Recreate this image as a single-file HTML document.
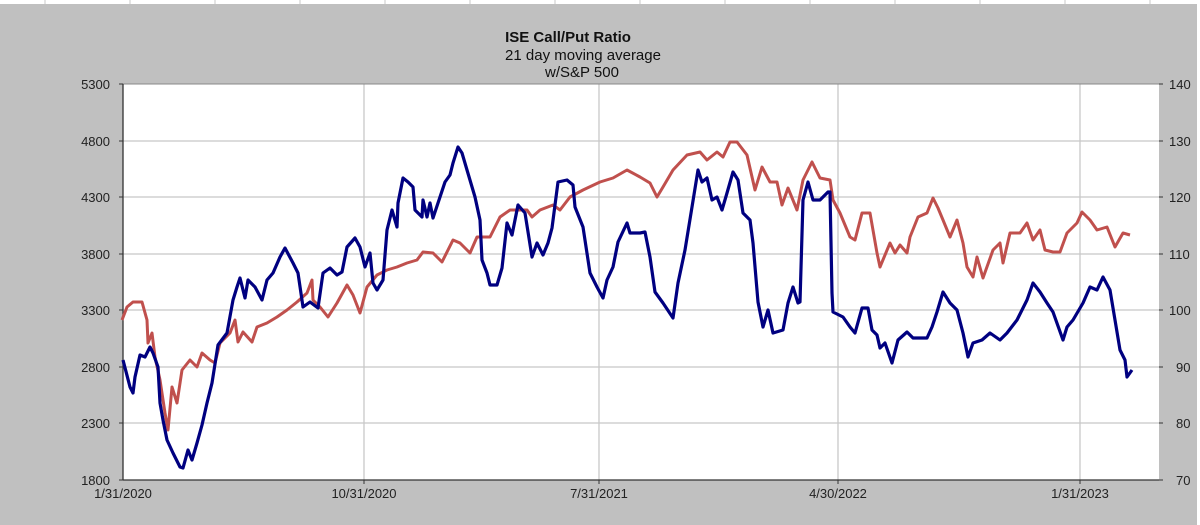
<!DOCTYPE html>
<html><head><meta charset="utf-8"><style>
html,body{margin:0;padding:0;background:#c0c0c0;}
svg{display:block;font-family:"Liberation Sans",Arial,sans-serif;}
</style></head><body>
<svg width="1200" height="525" viewBox="0 0 1200 525" xmlns="http://www.w3.org/2000/svg">
<rect x="0" y="0" width="1200" height="525" fill="#c0c0c0"/>
<rect x="0" y="0" width="1200" height="4" fill="#fff"/>
<g stroke="#c8c8c8" stroke-width="1">
<line x1="45" y1="0" x2="45" y2="4"/><line x1="130" y1="0" x2="130" y2="4"/><line x1="215" y1="0" x2="215" y2="4"/><line x1="300" y1="0" x2="300" y2="4"/><line x1="385" y1="0" x2="385" y2="4"/><line x1="470" y1="0" x2="470" y2="4"/><line x1="555" y1="0" x2="555" y2="4"/><line x1="640" y1="0" x2="640" y2="4"/><line x1="725" y1="0" x2="725" y2="4"/><line x1="810" y1="0" x2="810" y2="4"/><line x1="895" y1="0" x2="895" y2="4"/><line x1="980" y1="0" x2="980" y2="4"/><line x1="1065" y1="0" x2="1065" y2="4"/><line x1="1150" y1="0" x2="1150" y2="4"/>
</g>
<rect x="1197" y="0" width="3" height="525" fill="#fff"/>
<text x="568" y="42" font-size="15" font-weight="bold" text-anchor="middle" fill="#111">ISE  Call/Put Ratio</text>
<text x="583" y="60" font-size="15" text-anchor="middle" fill="#111">21 day moving average</text>
<text x="582" y="77" font-size="15" text-anchor="middle" fill="#111">w/S&amp;P 500</text>
<rect x="123" y="84" width="1036" height="396" fill="#fff"/>
<g stroke="#c8c8c8" stroke-width="1.3">
<line x1="123" y1="141" x2="1159" y2="141"/><line x1="123" y1="197" x2="1159" y2="197"/><line x1="123" y1="254" x2="1159" y2="254"/><line x1="123" y1="310" x2="1159" y2="310"/><line x1="123" y1="367" x2="1159" y2="367"/><line x1="123" y1="423" x2="1159" y2="423"/>
<line x1="364" y1="84" x2="364" y2="480"/><line x1="599" y1="84" x2="599" y2="480"/><line x1="838" y1="84" x2="838" y2="480"/><line x1="1080" y1="84" x2="1080" y2="480"/>
</g>
<line x1="123" y1="84" x2="1159" y2="84" stroke="#888" stroke-width="1"/>
<line x1="123" y1="84" x2="123" y2="480" stroke="#333" stroke-width="1.3"/>
<line x1="123" y1="480" x2="1159" y2="480" stroke="#333" stroke-width="1.3"/>
<g stroke="#333" stroke-width="1">
<line x1="119" y1="84" x2="123" y2="84"/><line x1="119" y1="141" x2="123" y2="141"/><line x1="119" y1="197" x2="123" y2="197"/><line x1="119" y1="254" x2="123" y2="254"/><line x1="119" y1="310" x2="123" y2="310"/><line x1="119" y1="367" x2="123" y2="367"/><line x1="119" y1="423" x2="123" y2="423"/><line x1="119" y1="480" x2="123" y2="480"/>
<line x1="1159" y1="84" x2="1163" y2="84"/><line x1="1159" y1="141" x2="1163" y2="141"/><line x1="1159" y1="197" x2="1163" y2="197"/><line x1="1159" y1="254" x2="1163" y2="254"/><line x1="1159" y1="310" x2="1163" y2="310"/><line x1="1159" y1="367" x2="1163" y2="367"/><line x1="1159" y1="423" x2="1163" y2="423"/><line x1="1159" y1="480" x2="1163" y2="480"/>
<line x1="364" y1="480" x2="364" y2="484"/><line x1="599" y1="480" x2="599" y2="484"/><line x1="838" y1="480" x2="838" y2="484"/><line x1="1080" y1="480" x2="1080" y2="484"/>
</g>
<g font-size="13" fill="#222" text-anchor="end">
<text x="110" y="89">5300</text><text x="110" y="146">4800</text><text x="110" y="202">4300</text><text x="110" y="259">3800</text><text x="110" y="315">3300</text><text x="110" y="372">2800</text><text x="110" y="428">2300</text><text x="110" y="485">1800</text>
</g>
<g font-size="13" fill="#222">
<text x="1169" y="89">140</text><text x="1169" y="146">130</text><text x="1169" y="202">120</text><text x="1169" y="259">110</text><text x="1169" y="315">100</text><text x="1176" y="372">90</text><text x="1176" y="428">80</text><text x="1176" y="485">70</text>
</g>
<g font-size="13" fill="#222" text-anchor="middle">
<text x="123" y="498">1/31/2020</text><text x="364" y="498">10/31/2020</text><text x="599" y="498">7/31/2021</text><text x="838" y="498">4/30/2022</text><text x="1080" y="498">1/31/2023</text>
</g>
<polyline fill="none" stroke="#c0504d" stroke-width="3" stroke-linejoin="round" points="122,320 127,307 133,302 142,302 147,320 148,343 152,333 155,357 160,380 165,413 168,430 172,387 177,403 182,370 190,360 197,367 202,353 210,360 215,363 220,343 230,333 235,320 238,342 243,332 252,342 257,327 267,323 277,317 287,310 297,302 307,293 312,280 313,300 320,307 328,317 337,303 347,285 353,295 360,313 367,287 377,275 387,270 397,267 407,263 417,260 423,252 433,253 442,262 453,240 460,243 470,253 477,237 490,237 500,217 510,210 527,210 532,217 540,210 553,205 560,210 570,197 583,190 600,182 613,178 627,170 640,177 650,183 657,197 663,187 673,170 687,155 700,152 707,160 717,152 723,157 730,142 737,142 747,155 755,190 762,167 770,182 777,182 782,205 788,188 797,210 803,180 812,162 820,178 830,180 833,200 840,213 850,237 855,240 862,213 870,213 877,253 880,267 890,243 895,253 900,245 907,253 910,237 918,217 927,213 933,198 938,208 943,220 950,237 957,220 963,243 967,267 973,277 977,257 983,278 993,250 1000,243 1003,263 1010,233 1020,233 1027,223 1033,240 1040,230 1045,250 1053,252 1060,252 1067,233 1077,223 1082,212 1090,220 1097,230 1107,227 1115,247 1123,233 1130,235"/>
<polyline fill="none" stroke="#000080" stroke-width="3.2" stroke-linejoin="round" points="123,360 130,387 133,393 135,377 140,355 145,357 150,347 153,353 158,367 160,403 163,420 167,440 173,453 180,467 183,468 188,450 192,460 197,443 202,425 207,403 212,383 218,345 227,333 233,300 237,287 240,278 245,298 248,280 255,287 262,300 267,280 273,273 280,257 285,248 293,263 298,273 303,307 310,302 318,308 323,273 330,268 337,275 342,272 347,247 355,238 360,247 365,267 370,253 373,283 377,290 383,280 387,230 392,210 397,227 398,203 403,178 408,182 413,187 415,210 422,217 423,200 427,217 430,203 433,218 440,197 445,182 450,175 453,163 458,147 462,153 467,170 475,197 480,220 482,260 487,273 490,285 497,285 502,268 507,223 512,235 518,205 525,213 532,257 537,243 543,255 548,243 552,228 558,182 567,180 573,185 575,207 583,227 590,273 597,287 603,298 607,280 613,267 618,242 627,223 630,233 640,233 645,232 650,257 655,292 663,303 673,318 678,283 685,250 692,207 698,170 702,182 707,178 712,200 717,197 722,210 727,193 733,172 738,180 743,213 750,220 753,243 758,302 763,327 768,310 773,333 783,330 788,303 793,287 798,303 800,302 803,200 808,182 813,200 820,200 828,192 830,192 832,293 833,312 843,317 850,327 855,333 862,308 868,308 872,330 877,335 880,348 885,343 892,363 898,340 907,332 913,338 927,338 932,327 937,312 943,292 950,303 957,310 963,333 968,357 973,343 982,340 990,333 1000,340 1007,333 1017,320 1027,300 1033,283 1040,292 1047,303 1053,312 1063,340 1067,327 1073,320 1083,303 1090,287 1097,290 1103,277 1110,290 1115,320 1120,350 1125,360 1127,377 1132,370"/>
</svg>
</body></html>
